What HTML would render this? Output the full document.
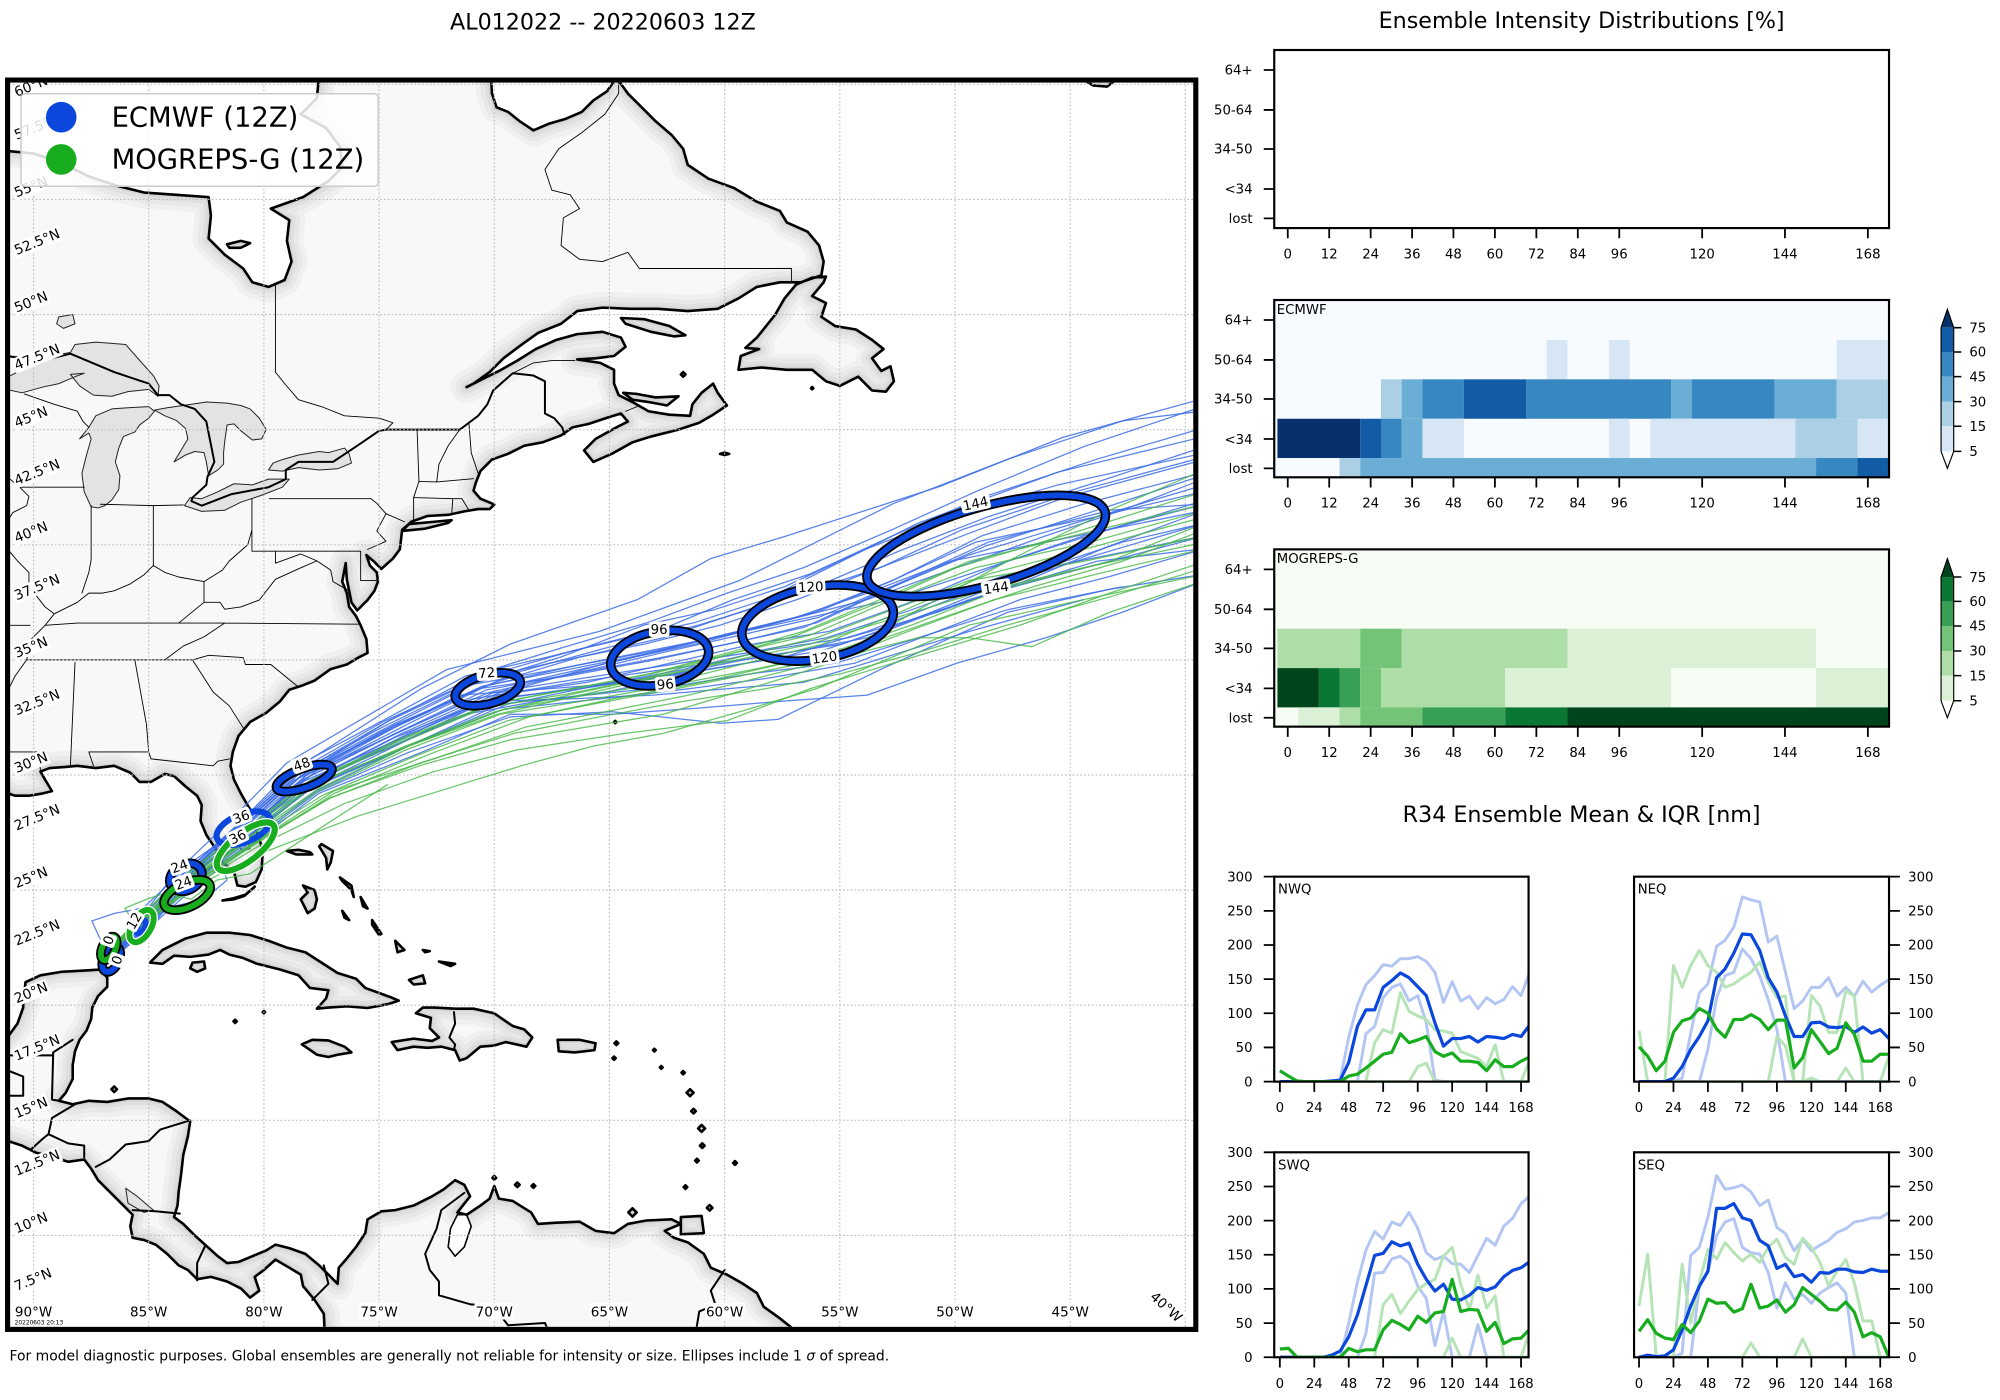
<!DOCTYPE html>
<html><head><meta charset="utf-8"><title>AL012022 -- 20220603 12Z</title>
<style>
html,body{margin:0;padding:0;background:#fff;}
svg{display:block;}
text{font-family:"DejaVu Sans","Liberation Sans",sans-serif;}
</style></head>
<body>
<svg xmlns="http://www.w3.org/2000/svg" xmlns:xlink="http://www.w3.org/1999/xlink" width="2000" height="1400" viewBox="0 0 1568 1097.6">
<defs>
<path id="land" vector-effect="non-scaling-stroke" d="
M-95,57.1 -91.1,57.1 -90,57.0 -88.8,56.6 -87.6,56.0 -86.4,55.6 -85.2,55.3 -83.8,55.2 -82.4,55.1 -82.3,54.3 -82.4,53.3 -81.7,52.6 -80.9,52.0 -80.5,51.4 -79.8,51.2 -79.1,51.5 -78.8,52.3 -79.0,53.2 -78.9,54.1 -79.7,54.6 -78.3,55.1 -77.2,55.8 -76.6,56.4 -76.7,57.3 -77.3,58.1 -78.4,58.7 -77.7,59.4 -77.5,61.5 -70.2,61.5 -70.1,59.6 -69.9,59.0 -69.4,58.8 -68.9,58.4 -68.3,58.0 -67.6,58.3 -66.9,58.5 -66.2,58.8 -65.7,59.3 -65.1,59.7 -64.7,60.3 -64.2,59.6 -63.6,59.0 -63.0,58.4 -62.3,57.8 -61.8,57.2 -61.6,56.5 -60.7,55.9 -59.6,55.5 -58.6,54.9 -57.6,54.5 -57.3,54.0 -56.4,53.6 -55.9,53.0 -55.7,52.3 -55.8,51.7 -56.7,51.4 -57.6,51.4 -58.6,51.2 -59.4,50.7 -60.3,50.25 -61.6,50.15 -62.9,50.25 -64.1,50.25 -65.3,50.3 -66.4,50.15 -67.1,49.6 -68.1,49.2 -68.8,48.7 -69.6,48.1 -70.2,47.5 -70.9,47.0 -71.2,46.85 -70.4,47.25 -69.7,47.6 -69.0,48.0 -68.2,48.5 -67.3,48.9 -66.4,49.15 -65.3,49.25 -64.5,49.0 -64.3,48.6 -64.8,48.2 -65.6,48.1 -66.4,48.05 -65.4,47.9 -64.8,47.6 -64.8,47.0 -64.6,46.5 -64.0,46.2 -63.3,45.8 -62.4,45.65 -61.5,45.6 -61.4,46.1 -61.0,46.6 -60.5,47.0 -60.3,46.6 -59.9,46.05 -60.5,45.65 -61.1,45.3 -62.0,45.0 -63.2,44.7 -64.0,44.45 -64.9,43.95 -65.7,43.6 -66.1,44.1 -65.6,44.6 -64.7,45.1 -64.2,45.35 -64.5,45.7 -65.0,45.55 -65.9,45.25 -66.6,45.1 -67.1,44.75 -67.9,44.45 -68.7,44.3 -69.4,43.95 -70.1,43.7 -70.6,43.2 -70.8,42.7 -70.9,42.35 -70.6,42.0 -70.0,41.75 -70.2,41.55 -70.7,41.55 -71.3,41.45 -72.0,41.3 -72.9,41.25 -73.6,41.0 -74.0,40.65 -74.05,40.2 -74.1,39.8 -74.4,39.4 -74.9,38.95 -75.2,39.25 -75.55,39.55 -75.4,39.1 -75.1,38.8 -75.05,38.4 -75.2,38.0 -75.5,37.6 -75.95,37.15 -76.2,37.5 -76.3,38.0 -76.4,38.5 -76.45,39.2 -76.6,38.4 -76.4,37.9 -76.3,37.3 -76.0,36.9 -75.8,36.5 -75.55,35.9 -75.5,35.3 -75.9,35.1 -76.4,34.8 -77.1,34.6 -77.8,34.1 -78.3,33.9 -78.9,33.7 -79.3,33.2 -79.9,32.7 -80.6,32.3 -81.1,31.7 -81.35,31.0 -81.45,30.4 -81.3,29.8 -81.0,29.2 -80.6,28.5 -80.6,28.1 -80.2,27.3 -80.05,26.6 -80.1,25.9 -80.35,25.35 -80.8,25.15 -81.15,25.2 -81.3,25.8 -81.8,26.2 -82.1,26.8 -82.5,27.4 -82.75,28.0 -82.7,28.7 -82.9,29.1 -83.4,29.5 -83.9,29.95 -84.3,30.05 -84.9,29.7 -85.4,29.7 -85.8,30.1 -86.5,30.4 -87.3,30.3 -88.1,30.4 -88.6,30.35 -89.3,30.3 -89.7,30.15 -89.5,29.8 -89.2,29.3 -89.6,29.2 -90.2,29.1 -90.8,29.1 -91.1,29.2 -94,29.2 -94,18.65 -91.1,18.65 -90.7,19.2 -90.45,19.9 -90.4,20.5 -90.35,21.0 -89.7,21.3 -88.8,21.45 -87.9,21.5 -87.1,21.55 -86.8,21.2 -86.8,20.8 -87.2,20.4 -87.45,19.9 -87.5,19.4 -87.7,18.9 -88.0,18.5 -88.2,18.0 -88.3,17.4 -88.3,16.8 -88.6,16.2 -88.9,15.85 -88.3,15.7 -87.6,15.85 -86.8,15.8 -85.9,15.95 -85.0,15.95 -84.4,15.8 -83.8,15.4 -83.2,14.95 -83.3,14.3 -83.5,13.5 -83.6,12.6 -83.7,11.9 -83.75,11.3 -83.9,10.8 -83.5,10.5 -83.0,10.0 -82.5,9.55 -82.0,9.1 -81.6,8.8 -81.1,8.85 -80.5,9.1 -79.9,9.35 -79.5,9.6 -78.9,9.45 -78.2,9.2 -77.6,8.7 -77.2,8.3 -76.8,7.9 -76.75,8.6 -76.4,9.0 -76.0,9.5 -75.6,10.1 -75.5,10.7 -74.9,11.05 -74.3,11.1 -73.5,11.3 -72.7,11.7 -72.2,12.0 -71.7,12.4 -71.3,12.2 -71.05,11.7 -71.6,11.0 -71.2,10.9 -70.6,11.3 -70.2,11.6 -70.0,12.15 -69.8,11.6 -69.2,11.5 -68.4,11.0 -68.1,10.5 -67.4,10.55 -66.3,10.6 -65.6,10.2 -64.8,10.1 -64.2,10.5 -63.4,10.65 -62.3,10.7 -61.9,10.5 -62.6,10.2 -62.2,9.9 -61.6,9.7 -60.9,9.2 -60.6,8.6 -59.9,8.3 -59.2,7.9 -58.6,7.5 -58.3,6.9 -57.6,6.4 -57.1,6.0 -56.5,4.5 -77.3,4.5 -77.4,6.6 -77.8,7.2 -78.3,7.8 -78.4,8.3 -78.9,8.6 -79.5,8.95 -80.0,8.5 -80.4,8.2 -80.2,7.6 -80.6,7.3 -81.0,7.7 -81.6,8.0 -82.3,8.2 -82.9,8.1 -83.3,8.5 -83.7,8.7 -84.2,9.2 -84.7,9.6 -85.2,9.8 -85.7,9.9 -85.8,10.4 -85.7,10.9 -86.2,11.4 -86.7,11.9 -87.2,12.4 -87.5,12.9 -87.8,13.3 -88.5,13.2 -89.3,13.45 -89.9,13.6 -90.5,13.9 -91.1,14.1 -95,14.1 Z
M-59.4,47.6 -58.4,47.7 -57.3,47.6 -56.2,47.6 -55.6,47.1 -55.0,46.9 -54.2,47.3 -53.6,46.7 -53.0,46.65 -52.65,47.1 -52.8,47.75 -53.2,47.55 -53.6,48.1 -53.1,48.5 -53.6,48.9 -54.3,49.35 -55.2,49.5 -55.8,49.9 -55.6,50.5 -56.2,50.8 -55.7,51.4 -55.6,51.65 -56.2,51.6 -56.9,51.3 -57.4,50.7 -57.8,50.0 -58.2,49.5 -58.6,49.0 -59.1,48.55 -58.5,48.5 -59.3,48.2 Z
M-64.5,49.85 -63.5,49.8 -62.4,49.5 -61.7,49.1 -62.2,49.05 -63.2,49.25 -64.3,49.6 Z
M-64.4,46.6 -63.8,46.55 -63.0,46.4 -62.0,46.45 -62.5,46.05 -63.3,46.2 -64.0,46.3 Z
M-74.0,40.6 -73.0,40.7 -72.0,40.95 -71.85,41.07 -72.6,41.0 -73.7,40.9 Z
M-45.5,61.5 -44.6,60.3 -44.0,59.95 -43.4,59.9 -43.0,60.2 -42.0,61.5 Z
M-81.6,53.05 -81.0,53.2 -80.6,53.1 -81.0,52.9 -81.5,52.9 Z
M-84.95,21.85 -84.4,22.4 -83.4,22.9 -82.5,23.15 -81.5,23.15 -80.6,23.05 -79.8,22.8 -79.0,22.5 -78.2,22.3 -77.5,21.85 -76.8,21.4 -76.0,21.15 -75.6,20.75 -74.5,20.35 -74.15,20.2 -74.6,20.05 -75.5,19.88 -76.4,19.95 -77.2,19.9 -77.7,19.85 -77.3,20.3 -77.2,20.65 -78.0,20.75 -78.5,21.3 -79.3,21.55 -80.3,21.8 -80.9,22.05 -81.5,22.2 -81.9,22.4 -82.4,22.2 -83.2,22.1 -83.9,22.15 -84.4,21.8 Z
M-83.1,21.85 -82.6,21.9 -82.55,21.6 -82.9,21.45 -83.2,21.6 Z
M-78.35,18.3 -77.9,18.5 -77.2,18.47 -76.5,18.2 -76.2,17.95 -76.8,17.85 -77.2,17.75 -77.7,17.85 -78.2,18.2 Z
M-74.45,18.4 -73.5,18.55 -72.7,18.45 -72.4,18.6 -72.8,19.0 -72.75,19.45 -73.4,19.65 -73.1,19.9 -72.6,19.9 -71.7,19.85 -70.9,19.85 -70.0,19.65 -69.5,19.3 -69.2,19.1 -68.7,18.95 -68.35,18.6 -68.6,18.2 -69.5,18.4 -70.0,18.25 -70.6,18.2 -71.2,17.7 -71.5,17.6 -71.7,18.05 -72.3,18.2 -72.9,18.15 -73.5,18.2 -74.2,18.05 Z
M-67.25,18.5 -66.3,18.5 -65.6,18.35 -65.65,18.05 -66.5,17.95 -67.2,18.0 Z
M-79.0,26.7 -78.5,26.75 -78.0,26.65 -77.9,26.55 -78.6,26.55 Z
M-77.5,27.0 -77.0,26.7 -77.1,26.2 -77.25,25.9 -77.3,26.4 -77.6,26.9 Z
M-78.3,25.2 -77.8,25.0 -77.7,24.6 -77.8,24.2 -78.1,24.0 -78.4,24.6 -78.1,24.9 Z
M-76.7,25.55 -76.2,25.2 -76.1,24.7 -76.2,25.0 -76.6,25.4 Z
M-75.8,24.7 -75.5,24.2 -75.7,24.3 Z
M-75.3,23.7 -74.9,23.1 -75.0,23.05 -75.3,23.5 Z
M-74.3,22.8 -73.9,22.4 -74.2,22.3 Z
M-73.7,21.1 -73.1,21.3 -73.0,20.95 -73.5,20.9 Z
M-72.4,21.9 -71.7,21.8 -71.9,21.7 Z
M-73.1,22.4 -72.8,22.35 -73.0,22.3 Z
M-76.6,24.1 -76.3,23.7 -76.5,23.8 Z
M-61.9,10.8 -61.0,10.85 -60.9,10.1 -61.9,10.05 Z
M-60.77,11.2 -60.65,11.32 -60.53,11.2 -60.65,11.08 Z
M-61.78,12.1 -61.7,12.18 -61.62,12.1 -61.7,12.02 Z
M-61.28,13.25 -61.2,13.33 -61.12,13.25 -61.2,13.17 Z
M-59.63,13.15 -59.55,13.23 -59.47,13.15 -59.55,13.07 Z
M-61.07,13.9 -60.97,14.0 -60.87,13.9 -60.97,13.8 Z
M-61.15,14.65 -61.0,14.8 -60.85,14.65 -61.0,14.5 Z
M-61.45,15.4 -61.35,15.5 -61.25,15.4 -61.35,15.3 Z
M-61.65,16.2 -61.5,16.35 -61.35,16.2 -61.5,16.05 Z
M-61.87,17.07 -61.8,17.14 -61.73,17.07 -61.8,17.0 Z
M-62.81,17.3 -62.75,17.36 -62.69,17.3 -62.75,17.24 Z
M-63.11,18.05 -63.05,18.11 -62.99,18.05 -63.05,17.99 Z
M-64.78,18.35 -64.7,18.43 -64.62,18.35 -64.7,18.27 Z
M-64.87,17.7 -64.8,17.77 -64.73,17.7 -64.8,17.63 Z
M-70.08,12.5 -70.0,12.58 -69.92,12.5 -70.0,12.42 Z
M-69.1,12.2 -69.0,12.3 -68.9,12.2 -69.0,12.1 Z
M-68.38,12.15 -68.3,12.23 -68.22,12.15 -68.3,12.07 Z
M-64.18,11.0 -64.0,11.18 -63.82,11.0 -64.0,10.82 Z
M-81.32,19.3 -81.25,19.37 -81.18,19.3 -81.25,19.23 Z
M-80.05,19.7 -80.0,19.75 -79.95,19.7 -80.0,19.65 Z
M-86.62,16.35 -86.5,16.47 -86.38,16.35 -86.5,16.23 Z
M-64.8,32.3 -64.75,32.35 -64.7,32.3 -64.75,32.25 Z
M-60.2,43.95 -60.0,44.0 -59.8,43.95 -60.0,43.9 Z
M-56.25,46.8 -56.2,46.85 -56.15,46.8 -56.2,46.75 Z
M-61.9,47.4 -61.8,47.5 -61.7,47.4 -61.8,47.3 Z
M-81.8,24.55 -81.3,24.65 -80.8,24.8 -80.4,25.15 -80.45,25.1 -80.85,24.75 -81.3,24.6 Z
"/>
<path id="lakes" vector-effect="non-scaling-stroke" d="
M-91.2,46.75 -90.5,46.6 -89.6,46.85 -88.9,47.0 -88.2,47.3 -87.8,47.45 -88.4,47.4 -88.0,46.9 -87.4,46.5 -86.6,46.45 -85.9,46.65 -85.0,46.75 -84.6,46.45 -84.55,46.9 -84.8,47.35 -85.3,47.9 -86.0,48.7 -86.6,48.75 -87.3,48.8 -88.2,48.7 -88.4,48.35 -89.0,48.25 -89.4,48.0 -89.9,47.85 -90.5,47.6 -91.2,47.25 Z
M-87.5,41.65 -87.8,42.3 -87.9,43.1 -87.7,43.9 -87.5,44.6 -87.6,44.85 -88.0,44.6 -87.6,45.1 -87.3,45.6 -86.6,45.9 -85.9,45.95 -85.0,46.0 -84.75,45.8 -85.0,45.5 -85.4,45.2 -85.6,44.9 -86.1,44.7 -86.3,44.2 -86.45,43.6 -86.25,43.0 -86.3,42.4 -86.6,41.95 -86.9,41.7 -87.2,41.6 Z
M-84.75,45.85 -84.2,45.95 -83.5,46.05 -82.5,46.2 -81.6,46.15 -81.0,46.05 -80.6,45.9 -80.2,45.5 -79.9,45.0 -80.1,44.6 -80.5,44.55 -81.0,44.95 -81.3,45.25 -81.6,45.2 -81.7,44.5 -81.75,44.0 -81.75,43.5 -82.0,43.25 -82.4,43.0 -82.5,43.6 -82.6,44.0 -83.0,44.05 -83.4,43.9 -83.9,43.6 -83.6,44.1 -83.3,44.6 -83.4,45.05 -83.8,45.4 -84.3,45.6 Z
M-83.45,41.7 -82.7,41.45 -81.7,41.5 -81.0,41.85 -80.1,42.15 -79.2,42.5 -78.9,42.85 -79.8,42.85 -80.5,42.6 -81.3,42.65 -82.0,42.3 -82.7,42.0 -83.2,42.05 Z
M-79.8,43.25 -79.2,43.2 -78.5,43.35 -77.6,43.25 -76.8,43.3 -76.2,43.55 -76.3,43.95 -76.5,44.2 -77.2,44.0 -77.6,44.05 -78.5,43.9 -79.2,43.7 -79.6,43.55 Z
M-81.0,27.2 -80.7,27.1 -80.6,26.8 -80.9,26.7 -81.1,26.9 Z
M-88.9,49.9 -88.3,50.0 -88.2,49.6 -88.7,49.4 -89.0,49.6 Z
M-86.0,12.05 -85.5,11.7 -84.8,11.1 -85.2,11.0 -85.9,11.4 Z
"/>
<clipPath id="landclip"><use xlink:href="#land"/></clipPath>
<clipPath id="mapclip2"><rect x="7.8" y="64.8" width="927.6" height="975.4"/></clipPath>
<clipPath id="cNW"><rect x="999" y="687.3" width="199.4" height="161"/></clipPath>
<clipPath id="cNE"><rect x="1281.1" y="687.3" width="199.9" height="161"/></clipPath>
<clipPath id="cSW"><rect x="999" y="903.4" width="199.4" height="161"/></clipPath>
<clipPath id="cSE"><rect x="1281.1" y="903.4" width="199.9" height="161"/></clipPath>
</defs>

<rect x="0" y="0" width="1568" height="1097.6" fill="#fff"/>

<!-- Titles -->
<text x="472.7" y="23" font-size="17.4" text-anchor="middle">AL012022 -- 20220603 12Z</text>
<text x="1240" y="22" font-size="17.4" text-anchor="middle">Ensemble Intensity Distributions [%]</text>
<text x="1240" y="644.3" font-size="17.4" text-anchor="middle">R34 Ensemble Mean &amp; IQR [nm]</text>

<!-- ================= MAP ================= -->
<g clip-path="url(#mapclip2)">
<rect x="7" y="64" width="930" height="978" fill="#fff"/>
<g transform="matrix(18.06,0,0,-18.05,1651.7,1149.1)" stroke-linejoin="round" stroke-linecap="round">
  <use xlink:href="#land" fill="#f8f8f8" stroke="none"/>
  <g clip-path="url(#landclip)" fill="none">
    <use xlink:href="#land" stroke="#f0f0f0" stroke-width="32"/>
    <use xlink:href="#land" stroke="#e8e8e8" stroke-width="22"/>
    <use xlink:href="#land" stroke="#dfdfdf" stroke-width="13"/>
    <use xlink:href="#land" stroke="#d5d5d5" stroke-width="6"/>
  </g>
  <use xlink:href="#lakes" fill="#e3e3e3" stroke="#222" stroke-width="1"/>
  <path vector-effect="non-scaling-stroke" fill="#fff" stroke="#000" stroke-width="1.6" d="M-71.6,10.9 -71.2,10.9 -71.0,10.4 -71.3,9.5 -71.7,9.1 -72.0,9.5 -71.9,10.3 Z"/>
  <!-- state / province borders -->
  <path vector-effect="non-scaling-stroke" fill="none" stroke="#000" stroke-width="0.9" d="
M-87.5,41.7 L-87.5,39.35 L-87.6,38.8 L-87.9,37.9
M-84.8,41.7 L-84.8,39.1
M-87.1,41.76 L-84.8,41.7 L-83.5,41.73
M-90.6,42.5 L-87.8,42.5
M-91.2,40.9 L-90.9,41.4 L-90.3,41.7 L-90.2,42.1 L-90.6,42.5 L-91.2,43.0
M-91.2,39.9 L-90.7,39.3 L-90.2,38.8 L-90.2,38.2 L-89.5,37.3 L-89.1,37.0 L-89.5,36.5 L-90.1,35.9 L-90.3,35.0 L-90.8,34.3 L-91.2,33.5
M-91.2,36.5 L-90.15,36.5
M-89.1,37.0 L-88.1,37.5 L-87.6,37.9 L-87.0,37.9 L-86.5,38.0 L-85.8,38.3 L-85.2,38.7 L-84.8,39.1 L-84.3,38.8 L-83.7,38.6 L-82.6,38.4
M-80.52,42.0 L-80.52,40.64 L-80.7,40.0 L-81.5,39.3 L-81.8,38.9 L-82.6,38.4
M-82.6,38.4 L-82.6,37.5 L-81.9,37.5 L-81.7,37.2 L-81.0,37.3 L-80.2,37.6 L-79.5,38.5 L-78.4,39.0 L-77.7,39.3
M-82.6,37.5 L-83.7,36.6
M-80.52,40.64 L-80.52,39.72 L-79.5,39.72 L-77.7,39.72 L-75.8,39.72
M-79.5,39.72 L-79.5,39.2 L-78.4,39.6 L-77.7,39.3 L-77.1,38.9 L-77.0,38.4 L-76.3,38.0
M-75.8,39.72 L-75.8,38.45 L-75.05,38.45
M-79.76,42.0 L-75.35,42.0 L-75.1,41.8 L-74.7,41.35 L-73.9,41.0
M-74.7,41.35 L-75.1,40.6 L-74.7,40.15 L-75.5,39.8
M-73.5,42.05 L-73.5,41.1 L-73.7,40.95
M-73.5,42.05 L-73.27,42.75 L-73.35,45.0
M-73.5,42.05 L-71.8,42.0 L-71.4,42.0 L-71.1,41.5
M-71.8,42.0 L-71.85,41.3
M-73.27,42.75 L-72.5,42.73 L-70.9,42.87
M-72.5,42.73 L-72.4,43.5 L-72.0,44.3 L-71.5,45.0
M-70.7,43.1 L-71.0,44.0 L-71.1,45.3
M-75.9,36.55 L-81.7,36.6 L-83.7,36.6 L-88.1,36.6 L-89.5,36.5
M-81.7,36.6 L-82.6,36.0 L-83.5,35.6 L-84.3,35.0
M-78.55,33.86 L-79.7,34.8 L-80.8,34.8 L-80.9,35.1 L-82.4,35.2 L-83.1,35.0 L-84.3,35.0
M-80.9,32.05 L-81.5,33.0 L-82.2,33.6 L-83.1,35.0
M-84.3,35.0 L-90.3,35.0
M-81.5,30.7 L-82.0,30.6 L-82.2,30.4 L-84.9,30.7 L-85.0,31.0 L-87.6,31.0 L-87.4,30.4
M-85.0,31.0 L-85.1,32.2 L-85.6,34.98
M-88.4,30.4 L-88.2,34.9
M-89.7,30.2 L-89.8,31.0 L-91.2,31.0
M-87.6,45.1 L-87.85,45.35 L-88.1,45.8 L-89.1,46.1 L-90.4,46.55
M-79.5,51.3 L-79.5,47.5 L-79.1,47.0 L-78.5,46.3 L-77.5,46.0 L-76.5,45.6 L-75.0,45.5 L-74.4,45.3 L-74.7,45.0
M-69.2,47.45 L-68.3,47.9 L-67.5,48.0 L-66.5,48.0
M-64.3,45.8 L-63.8,46.0
M-57.1,51.45 L-57.1,52.0 L-63.7,52.0 L-64.2,52.7 L-65.3,52.3 L-66.3,52.4 L-67.1,53.0 L-67.0,54.2 L-66.3,54.6 L-66.7,55.2 L-67.5,55.4 L-67.8,56.3 L-67.2,57.2 L-66.2,57.9 L-65.2,58.7 L-64.6,59.6 L-64.6,60.3
"/>
  <!-- country borders -->
  <path vector-effect="non-scaling-stroke" fill="none" stroke="#000" stroke-width="2" d="
M-91.2,48.2 L-90.4,48.1 L-89.6,48.0 L-88.4,48.3 L-86.5,47.5 L-85.0,47.0 L-84.6,46.5 L-84.1,46.5 L-83.6,46.1 L-83.0,45.9 L-82.5,45.35 L-82.15,43.6 L-82.45,42.95 L-82.5,42.6 L-83.1,42.05 L-83.15,41.9 L-82.7,41.7 L-81.4,42.2 L-79.8,42.5 L-79.05,42.85 L-79.05,43.25 L-78.5,43.6 L-77.0,43.6 L-76.4,44.0 L-75.8,44.4 L-75.0,44.95 L-74.7,45.0 L-71.5,45.0 L-71.1,45.3 L-70.7,45.6 L-70.3,46.1 L-70.05,46.7 L-69.2,47.45 L-68.3,47.35 L-67.8,47.1 L-67.8,45.7 L-67.4,45.5 L-67.05,45.1 L-66.95,44.8
M-91.2,16.07 L-90.45,16.07 L-90.45,16.9 L-91.2,17.2 M-91.2,17.82 L-89.15,17.82 L-89.15,17.95 L-88.3,18.5
M-89.15,17.82 L-89.2,15.9 L-88.9,15.85
M-88.2,15.7 L-89.2,15.1 L-89.35,14.4 L-89.6,14.2 L-90.1,13.75
M-89.35,14.4 L-88.5,14.0 L-87.8,13.9 L-87.8,13.4
M-87.3,12.98 L-86.7,13.3 L-86.0,13.95 L-85.0,14.1 L-84.5,14.6 L-83.2,15.0
M-85.7,11.1 L-84.7,11.05 L-83.65,10.95
M-82.55,9.55 L-82.9,8.8 L-82.9,8.05
M-77.4,8.7 L-77.2,7.9 L-77.9,7.2
M-71.3,11.85 L-72.3,11.1 L-72.5,10.3 L-73.0,9.2 L-72.8,8.5 L-72.4,8.0 L-72.4,7.4 L-71.0,7.0 L-70.1,7.0 L-69.4,6.1 L-67.8,6.2 L-67.5,5.5
M-60.0,8.5 L-60.6,7.6 L-60.4,7.0 L-61.1,6.7 L-61.3,5.5
M-57.1,6.0 L-57.3,5.5
M-71.75,19.7 L-71.7,19.2 L-71.95,18.6 L-71.7,18.3 L-71.75,18.05
"/>
  <use xlink:href="#land" fill="none" stroke="#000" stroke-width="2.6"/>
</g>

<!-- gridlines -->
<g stroke="#bdbdbd" stroke-width="0.9" stroke-dasharray="1.3 1.7" fill="none">
<path d="M26.3,64V1041 M116.6,64V1041 M206.9,64V1041 M297.2,64V1041 M387.5,64V1041 M477.8,64V1041 M568.1,64V1041 M658.4,64V1041 M748.7,64V1041 M839,64V1041 M929.3,64V1041"/>
<path d="M7,66.1H937 M7,156.35H937 M7,246.6H937 M7,336.85H937 M7,427.1H937 M7,517.35H937 M7,607.6H937 M7,697.85H937 M7,788.1H937 M7,878.35H937 M7,968.6H937"/>
</g>

<!-- blue tracks -->
<g fill="none" stroke="#3d6de6" stroke-width="1" stroke-opacity="0.85" stroke-linejoin="round">
<polyline points="87,752 108,722 140,688 185,648 236,600 330,540 400,505 500,470 557,438 614,421 738,381 833,343 945,312"/>
<polyline points="88,750 113,728 150,693 196,655 245,612 320,580 390,545 460,535 525,520 590,505 650,495 720,470 790,440 870,415 945,392"/>
<polyline points="86,754 110,724 143,686 188,645 230,602 300,565 365,530 430,515 490,500 545,488 600,470 660,440 720,410 830,370 945,342"/>
<polyline points="87,751 112,729 148,692 194,657 244,618 320,585 395,556 470,548 540,540 600,532 670,520 735,495 800,470 870,452 945,430"/>
<polyline points="88,752 109,721 138,684 180,644 225,598 290,560 350,525 410,510 470,495 525,475 580,455 640,425 700,395 790,360 880,330 945,322"/>
<polyline points="87,753 114,730 152,696 200,660 250,622 330,590 400,560 480,560 550,555 610,550 680,545 750,520 820,500 880,480 945,455"/>
<polyline points="86,750 111,725 146,689 190,650 240,608 310,570 380,538 450,522 515,510 580,495 640,480 700,455 770,420 850,395 945,370"/>
<polyline points="87,752 110,727 145,691 192,654 242,613 310,578 385,548 455,540 520,530 585,520 645,510 710,488 780,460 860,435 945,410"/>
<polyline points="88,751 112,723 147,687 189,646 234,604 300,566 372,533 440,518 505,505 565,490 625,470 690,445 755,415 845,385 945,358"/>
<polyline points="87,752 111,728 149,694 197,658 248,620 320,585 398,552 465,538 535,525 600,510 665,500 735,480 805,455 870,428 945,400"/>
<polyline points="86,753 109,726 144,690 187,651 235,609 300,573 375,540 445,530 510,518 570,505 630,492 695,462 760,435 850,408 945,380"/>
<polyline points="87,751 113,727 151,692 199,654 251,611 330,572 405,540 475,520 545,505 610,488 680,470 750,445 820,420 880,400 945,375"/>
<polyline points="88,752 110,725 142,689 184,650 228,610 290,580 360,545 430,540 495,535 555,525 615,515 680,495 745,470 880,425 945,410"/>
<polyline points="87,752 112,726 147,690 193,651 241,607 310,568 388,535 455,515 520,500 580,480 640,460 705,432 775,405 860,378 945,350"/>
<polyline points="87,750 111,724 146,688 190,649 239,606 305,565 380,530 450,510 515,495 575,470 635,450 700,420 770,390 860,360 945,335"/>
<polyline points="86,752 110,726 145,691 190,653 237,613 305,583 378,550 445,548 512,545 570,540 630,535 695,515 760,495 850,470"/>
<polyline points="88,753 113,729 150,695 198,659 249,621 320,590 400,562 480,558 565,567 610,564 690,525 790,480 870,462 945,450"/>
<polyline points="87,752 111,727 147,690 192,651 240,610 310,575 383,543 450,528 518,512 580,498 642,484 710,455 775,425 870,400 945,395"/>
<polyline points="87,751 110,725 144,687 188,648 236,605 305,565 376,528 440,508 508,488 570,465 630,445 700,415 766,385 850,350 945,318"/>
<polyline points="88,752 112,727 148,692 195,655 246,616 320,580 394,548 460,538 530,528 595,515 660,505 725,482 795,460 870,440 945,420"/>
<polyline points="87,753 111,726 146,690 191,652 238,611 310,575 381,541 450,528 516,516 580,503 641,488 705,458 773,428 860,400 945,372"/>
<polyline points="86,751 108,724 141,687 185,649 232,607 300,570 368,537 435,525 500,512 560,500 618,486 680,465 745,440 870,415 945,400"/>
<polyline points="87,752 112,726 149,689 196,649 247,605 325,565 402,528 475,508 548,490 620,468 690,445 760,418 835,390 945,360"/>
<polyline points="88,752 113,727 151,691 200,652 252,610 330,570 410,535 485,518 560,500 630,485 700,470 775,445 850,420 945,395"/>
<polyline points="87,752 110,725 145,689 189,650 236,608 305,572 378,538 445,525 510,512 570,497 632,482 700,455 765,425 860,405 945,385"/>
<polyline points="87,752 112,728 148,693 195,656 244,617 320,585 392,552 460,545 528,538 590,528 655,520 720,500 790,478 880,460"/>
<polyline points="88,752 110,723 144,688 186,650 233,608 300,572 372,536 440,515 505,490 560,478 615,460 680,430 745,405 830,380 945,355"/>
<polyline points="87,751 111,725 147,690 194,653 243,612 315,575 387,543 455,532 520,522 585,512 648,500 715,478 785,452 945,420"/>
<polyline points="87,752 78,735 72,722 90,716 112,712 125,700 150,676 170,662 188,648 230,612 300,580 370,548 450,535 520,525 600,515 680,500 760,470 860,440 945,430"/>
<polyline points="88,751 100,738 118,728 130,712 160,705 178,690 172,672 190,655 232,620 295,590 365,560 420,550 478,542 540,528"/>
</g>
<!-- green tracks -->
<g fill="none" stroke="#46b846" stroke-width="1" stroke-opacity="0.8" stroke-linejoin="round">
<polyline points="86,746 110,722 148,692 200,660 260,625 330,600 400,580 460,570 520,560 570,545 620,530 680,510 720,500 760,500 809,507 870,480 945,455"/>
<polyline points="85,744 112,720 150,688 197,655 250,618 320,585 390,560 455,545 520,530 580,515 640,500 700,478 760,455 850,440 945,420"/>
<polyline points="86,745 111,724 152,694 205,662 270,630 340,605 405,588 490,575 570,565 635,540 700,520 750,505 800,490 870,465 945,440"/>
<polyline points="85,746 109,719 145,686 192,650 243,612 315,580 385,552 450,540 510,528 570,512 630,495 695,468 760,440 850,418 945,395"/>
<polyline points="86,744 113,723 155,690 208,655 262,620 340,595 412,570 475,558 540,545 600,530 660,515 720,492 780,470 860,450 945,430"/>
<polyline points="85,745 110,721 147,689 195,653 247,614 320,585 395,556 460,545 525,535 585,520 645,505 710,478 775,450 860,428 945,405"/>
<polyline points="86,746 112,725 153,695 210,667 280,640 345,620 410,600 465,585 520,575 580,558 640,540 700,515 760,490 850,470 945,450"/>
<polyline points="85,744 111,722 149,690 199,657 254,623 325,593 398,565 465,552 530,540 590,528 655,515 720,478 790,440 870,400 945,368"/>
<polyline points="86,745 110,723 148,691 196,656 245,616 315,586 388,558 450,544 515,530 575,518 635,505 700,485 765,465 850,445 945,425"/>
<polyline points="85,746 112,724 151,693 202,660 258,626 330,598 403,575 470,562 535,550 600,540 660,528 725,510 790,490 870,468 945,445"/>
<polyline points="86,744 109,720 144,687 190,652 240,615 310,584 380,555 445,544 505,532 565,515 625,498 690,472 750,445 850,415 945,385"/>
<polyline points="85,745 113,724 154,692 206,658 262,622 340,590 415,562 480,548 550,535 615,520 680,505 745,482 810,460 880,440 945,415"/>
<polyline points="86,745 111,723 150,690 198,656 250,620 318,588 392,560 455,550 522,538 590,525 650,512 715,490 785,462 870,440 945,410"/>
<polyline points="86,746 110,722 146,688 194,652 244,614 312,580 385,552 448,540 512,528 575,512 635,498 700,470 765,445 855,425 945,400"/>
<polyline points="86,746 96,735 104,722 98,712 115,705 130,700 150,705 170,690 196,685 250,650 304,615"/>
</g>

<!-- ellipses -->
<g fill="none">
  <ellipse cx="87.2" cy="752" rx="10.6" ry="6.1" transform="rotate(-65 87.2 752)" stroke="#000" stroke-width="7.5"/>
  <ellipse cx="87.2" cy="752" rx="10.6" ry="6.1" transform="rotate(-65 87.2 752)" stroke="#0b47dd" stroke-width="4.6"/>
  <ellipse cx="85.3" cy="743.5" rx="9.9" ry="5.1" transform="rotate(-65 85.3 743.5)" stroke="#000" stroke-width="7.5"/>
  <ellipse cx="85.3" cy="743.5" rx="9.9" ry="5.1" transform="rotate(-65 85.3 743.5)" stroke="#17ad1f" stroke-width="4.6"/>
  <ellipse cx="110.7" cy="726.5" rx="6" ry="2.5" transform="rotate(-60 110.7 726.5)" stroke="#0b47dd" stroke-width="4"/>
  <ellipse cx="111" cy="726" rx="14" ry="7.5" transform="rotate(-60 111 726)" stroke="#fff" stroke-width="6.5"/>
  <ellipse cx="111" cy="726" rx="14" ry="7.5" transform="rotate(-60 111 726)" stroke="#17ad1f" stroke-width="4.6"/>
  <ellipse cx="145.7" cy="687.8" rx="13.3" ry="10.1" transform="rotate(-30 145.7 687.8)" stroke="#000" stroke-width="7.5"/>
  <ellipse cx="145.7" cy="687.8" rx="13.3" ry="10.1" transform="rotate(-30 145.7 687.8)" stroke="#0b47dd" stroke-width="4.6"/>
  <ellipse cx="146.7" cy="701.7" rx="19.5" ry="9.5" transform="rotate(-25 146.7 701.7)" stroke="#000" stroke-width="7.5"/>
  <ellipse cx="146.7" cy="701.7" rx="19.5" ry="9.5" transform="rotate(-25 146.7 701.7)" stroke="#17ad1f" stroke-width="4.6"/>
  <ellipse cx="190.8" cy="649.3" rx="22.2" ry="11" transform="rotate(-22 190.8 649.3)" stroke="#0b47dd" stroke-width="4.8"/>
  <ellipse cx="192.7" cy="663.8" rx="27.5" ry="11" transform="rotate(-38 192.7 663.8)" stroke="#fff" stroke-width="6.8"/>
  <ellipse cx="192.7" cy="663.8" rx="27.5" ry="11" transform="rotate(-38 192.7 663.8)" stroke="#17ad1f" stroke-width="4.8"/>
  <ellipse cx="238.5" cy="610" rx="23" ry="7.6" transform="rotate(-20 238.5 610)" stroke="#000" stroke-width="7.5"/>
  <ellipse cx="238.5" cy="610" rx="23" ry="7.6" transform="rotate(-20 238.5 610)" stroke="#0b47dd" stroke-width="4.6"/>
  <ellipse cx="382.4" cy="540.4" rx="26.2" ry="11.4" transform="rotate(-15 382.4 540.4)" stroke="#000" stroke-width="7.5"/>
  <ellipse cx="382.4" cy="540.4" rx="26.2" ry="11.4" transform="rotate(-15 382.4 540.4)" stroke="#0b47dd" stroke-width="4.6"/>
  <ellipse cx="517.2" cy="516" rx="38.8" ry="21" transform="rotate(-10 517.2 516)" stroke="#000" stroke-width="7.5"/>
  <ellipse cx="517.2" cy="516" rx="38.8" ry="21" transform="rotate(-10 517.2 516)" stroke="#0b47dd" stroke-width="4.6"/>
  <ellipse cx="641" cy="488.5" rx="60.1" ry="28.3" transform="rotate(-10 641 488.5)" stroke="#000" stroke-width="7.5"/>
  <ellipse cx="641" cy="488.5" rx="60.1" ry="28.3" transform="rotate(-10 641 488.5)" stroke="#0b47dd" stroke-width="4.6"/>
  <ellipse cx="773.2" cy="428" rx="96.9" ry="30.5" transform="rotate(-16 773.2 428)" stroke="#000" stroke-width="7.5"/>
  <ellipse cx="773.2" cy="428" rx="96.9" ry="30.5" transform="rotate(-16 773.2 428)" stroke="#0b47dd" stroke-width="4.6"/>
</g>

<!-- ellipse labels -->
<g font-size="10.5" text-anchor="middle">
  <g transform="translate(84.9,737) rotate(-70)"><rect x="-5" y="-6" width="10" height="12" rx="2" fill="#fff"/><text y="3.8">0</text></g>
  <g transform="translate(91.5,752.6) rotate(-70)"><rect x="-5" y="-6" width="10" height="12" rx="2" fill="#fff"/><text y="3.8">0</text></g>
  <g transform="translate(105,721.8) rotate(-60)"><rect x="-8" y="-6" width="16" height="12" rx="2" fill="#fff"/><text y="3.8">12</text></g>
  <g transform="translate(140.6,679) rotate(-20)"><rect x="-8" y="-6" width="16" height="12" rx="2" fill="#fff"/><text y="3.8">24</text></g>
  <g transform="translate(143.7,692) rotate(-20)"><rect x="-8" y="-6" width="16" height="12" rx="2" fill="#fff"/><text y="3.8">24</text></g>
  <g transform="translate(189,640.3) rotate(-20)"><rect x="-8" y="-6" width="16" height="12" rx="2" fill="#fff"/><text y="3.8">36</text></g>
  <g transform="translate(186.3,656) rotate(-25)"><rect x="-8" y="-6" width="16" height="12" rx="2" fill="#fff"/><text y="3.8">36</text></g>
  <g transform="translate(236.5,599) rotate(-20)"><rect x="-8" y="-6" width="16" height="12" rx="2" fill="#fff"/><text y="3.8">48</text></g>
  <g transform="translate(381.6,527.4) rotate(-5)"><rect x="-8" y="-6" width="16" height="12" rx="2" fill="#fff"/><text y="3.8">72</text></g>
  <g transform="translate(516.8,493.4)"><rect x="-8" y="-6" width="16" height="12" rx="2" fill="#fff"/><text y="3.8">96</text></g>
  <g transform="translate(521.6,536.3) rotate(-5)"><rect x="-8" y="-6" width="16" height="12" rx="2" fill="#fff"/><text y="3.8">96</text></g>
  <g transform="translate(635.6,460) rotate(-3)"><rect x="-11.5" y="-6" width="23" height="12" rx="2" fill="#fff"/><text y="3.8">120</text></g>
  <g transform="translate(646.4,515.3) rotate(-8)"><rect x="-11.5" y="-6" width="23" height="12" rx="2" fill="#fff"/><text y="3.8">120</text></g>
  <g transform="translate(764.8,394.6) rotate(-12)"><rect x="-11.5" y="-6" width="23" height="12" rx="2" fill="#fff"/><text y="3.8">144</text></g>
  <g transform="translate(780.9,460.7) rotate(-8)"><rect x="-11.5" y="-6" width="23" height="12" rx="2" fill="#fff"/><text y="3.8">144</text></g>
</g>

<!-- lat labels -->
<g font-size="10.8">
  <g transform="translate(13,76) rotate(-22)"><rect x="-1" y="-9.5" width="29" height="12" fill="#fff"/><text>60°N</text></g>
  <g transform="translate(13,109.7) rotate(-22)"><rect x="-1" y="-9.5" width="39.5" height="12" fill="#fff"/><text>57.5°N</text></g>
  <g transform="translate(13,154.85) rotate(-22)"><rect x="-1" y="-9.5" width="29" height="12" fill="#fff"/><text>55°N</text></g>
  <g transform="translate(13,200) rotate(-22)"><rect x="-1" y="-9.5" width="39.5" height="12" fill="#fff"/><text>52.5°N</text></g>
  <g transform="translate(13,245.1) rotate(-22)"><rect x="-1" y="-9.5" width="29" height="12" fill="#fff"/><text>50°N</text></g>
  <g transform="translate(13,290.2) rotate(-22)"><rect x="-1" y="-9.5" width="39.5" height="12" fill="#fff"/><text>47.5°N</text></g>
  <g transform="translate(13,335.35) rotate(-22)"><rect x="-1" y="-9.5" width="29" height="12" fill="#fff"/><text>45°N</text></g>
  <g transform="translate(13,380.5) rotate(-22)"><rect x="-1" y="-9.5" width="39.5" height="12" fill="#fff"/><text>42.5°N</text></g>
  <g transform="translate(13,425.6) rotate(-22)"><rect x="-1" y="-9.5" width="29" height="12" fill="#fff"/><text>40°N</text></g>
  <g transform="translate(13,470.7) rotate(-22)"><rect x="-1" y="-9.5" width="39.5" height="12" fill="#fff"/><text>37.5°N</text></g>
  <g transform="translate(13,515.85) rotate(-22)"><rect x="-1" y="-9.5" width="29" height="12" fill="#fff"/><text>35°N</text></g>
  <g transform="translate(13,561) rotate(-22)"><rect x="-1" y="-9.5" width="39.5" height="12" fill="#fff"/><text>32.5°N</text></g>
  <g transform="translate(13,606.1) rotate(-22)"><rect x="-1" y="-9.5" width="29" height="12" fill="#fff"/><text>30°N</text></g>
  <g transform="translate(13,651.2) rotate(-22)"><rect x="-1" y="-9.5" width="39.5" height="12" fill="#fff"/><text>27.5°N</text></g>
  <g transform="translate(13,696.35) rotate(-22)"><rect x="-1" y="-9.5" width="29" height="12" fill="#fff"/><text>25°N</text></g>
  <g transform="translate(13,741.5) rotate(-22)"><rect x="-1" y="-9.5" width="39.5" height="12" fill="#fff"/><text>22.5°N</text></g>
  <g transform="translate(13,786.6) rotate(-22)"><rect x="-1" y="-9.5" width="29" height="12" fill="#fff"/><text>20°N</text></g>
  <g transform="translate(13,831.7) rotate(-22)"><rect x="-1" y="-9.5" width="39.5" height="12" fill="#fff"/><text>17.5°N</text></g>
  <g transform="translate(13,876.85) rotate(-22)"><rect x="-1" y="-9.5" width="29" height="12" fill="#fff"/><text>15°N</text></g>
  <g transform="translate(13,922) rotate(-22)"><rect x="-1" y="-9.5" width="39.5" height="12" fill="#fff"/><text>12.5°N</text></g>
  <g transform="translate(13,967.1) rotate(-22)"><rect x="-1" y="-9.5" width="29" height="12" fill="#fff"/><text>10°N</text></g>
  <g transform="translate(13,1012.2) rotate(-22)"><rect x="-1" y="-9.5" width="32.5" height="12" fill="#fff"/><text>7.5°N</text></g>
</g>
<!-- lon labels -->
<g font-size="10.6" text-anchor="middle">
  <rect x="10.8" y="1021.5" width="31" height="13" fill="#fff"/><text x="26.3" y="1032.3">90°W</text>
  <rect x="101.1" y="1021.5" width="31" height="13" fill="#fff"/><text x="116.6" y="1032.3">85°W</text>
  <rect x="191.4" y="1021.5" width="31" height="13" fill="#fff"/><text x="206.9" y="1032.3">80°W</text>
  <rect x="281.7" y="1021.5" width="31" height="13" fill="#fff"/><text x="297.2" y="1032.3">75°W</text>
  <rect x="372" y="1021.5" width="31" height="13" fill="#fff"/><text x="387.5" y="1032.3">70°W</text>
  <rect x="462.3" y="1021.5" width="31" height="13" fill="#fff"/><text x="477.8" y="1032.3">65°W</text>
  <rect x="552.6" y="1021.5" width="31" height="13" fill="#fff"/><text x="568.1" y="1032.3">60°W</text>
  <rect x="642.9" y="1021.5" width="31" height="13" fill="#fff"/><text x="658.4" y="1032.3">55°W</text>
  <rect x="733.2" y="1021.5" width="31" height="13" fill="#fff"/><text x="748.7" y="1032.3">50°W</text>
  <rect x="823.5" y="1021.5" width="31" height="13" fill="#fff"/><text x="839" y="1032.3">45°W</text>
  <g transform="translate(914.5,1024.5) rotate(42)"><rect x="-15.5" y="-6.5" width="31" height="13" fill="#fff"/><text y="3.8">40°W</text></g>
</g>
<text x="11.5" y="1038.5" font-size="4.6">20220603 20:13</text>
</g>

<!-- legend -->
<rect x="16.5" y="73.5" width="280" height="72.5" rx="3" fill="#fff" fill-opacity="0.85" stroke="#cccccc" stroke-width="1.2"/>
<circle cx="48" cy="91.9" r="12" fill="#0b47dd"/>
<circle cx="48" cy="125" r="12" fill="#17ad1f"/>
<text x="87.5" y="99" font-size="21.5">ECMWF (12Z)</text>
<text x="87.5" y="132.2" font-size="21.5">MOGREPS-G (12Z)</text>

<!-- map frame -->
<rect x="5.95" y="62.75" width="931.55" height="979.5" fill="none" stroke="#000" stroke-width="4"/>

<!-- footer -->
<text x="7.5" y="1066.5" font-size="10.9">For model diagnostic purposes. Global ensembles are generally not reliable for intensity or size. Ellipses include 1 <tspan font-style="italic">σ</tspan> of spread.</text>

<!-- ================= INTENSITY PANELS ================= -->
<rect x="999" y="39.2" width="482" height="139.6" fill="#fff" stroke="#000" stroke-width="1.7"/>
<rect x="999" y="235.2" width="482" height="139" fill="#f7fbff"/>
<g stroke="none">
<rect x="1212.6" y="266.6" width="16.3" height="30.8" fill="#d6e6f4"/>
<rect x="1261.4" y="266.6" width="16.2" height="30.8" fill="#d6e6f4"/>
<rect x="1440" y="266.6" width="41" height="30.8" fill="#d6e6f4"/>
<rect x="1082.7" y="297.4" width="16.2" height="30.9" fill="#abd0e6"/>
<rect x="1098.9" y="297.4" width="16.3" height="30.9" fill="#6aaed6"/>
<rect x="1115.2" y="297.4" width="32.5" height="30.9" fill="#3787c0"/>
<rect x="1147.7" y="297.4" width="48.7" height="30.9" fill="#115ca5"/>
<rect x="1196.4" y="297.4" width="113.7" height="30.9" fill="#3787c0"/>
<rect x="1310.1" y="297.4" width="16.2" height="30.9" fill="#6aaed6"/>
<rect x="1326.3" y="297.4" width="65" height="30.9" fill="#3787c0"/>
<rect x="1391.3" y="297.4" width="48.7" height="30.9" fill="#6aaed6"/>
<rect x="1440" y="297.4" width="41" height="30.9" fill="#abd0e6"/>
<rect x="1001.5" y="328.3" width="64.9" height="30.8" fill="#08306b"/>
<rect x="1066.4" y="328.3" width="16.3" height="30.8" fill="#115ca5"/>
<rect x="1082.7" y="328.3" width="16.2" height="30.8" fill="#3787c0"/>
<rect x="1098.9" y="328.3" width="16.3" height="30.8" fill="#6aaed6"/>
<rect x="1115.2" y="328.3" width="32.5" height="30.8" fill="#d6e6f4"/>
<rect x="1261.4" y="328.3" width="16.2" height="30.8" fill="#d6e6f4"/>
<rect x="1293.8" y="328.3" width="113.7" height="30.8" fill="#d6e6f4"/>
<rect x="1407.5" y="328.3" width="48.8" height="30.8" fill="#abd0e6"/>
<rect x="1456.3" y="328.3" width="24.7" height="30.8" fill="#d6e6f4"/>
<rect x="1050.2" y="359.1" width="16.2" height="15.1" fill="#abd0e6"/>
<rect x="1066.4" y="359.1" width="357.4" height="15.1" fill="#6aaed6"/>
<rect x="1423.8" y="359.1" width="32.5" height="15.1" fill="#3787c0"/>
<rect x="1456.3" y="359.1" width="24.7" height="15.1" fill="#115ca5"/>
</g>
<rect x="999" y="235.2" width="482" height="139" fill="none" stroke="#000" stroke-width="1.7"/>
<text x="1001" y="246" font-size="10.4">ECMWF</text>
<rect x="999" y="430.7" width="482" height="139" fill="#f7fcf5"/>
<g stroke="none">
<rect x="1001.5" y="492.9" width="64.9" height="30.9" fill="#aedea7"/>
<rect x="1066.4" y="492.9" width="32.5" height="30.9" fill="#73c476"/>
<rect x="1098.9" y="492.9" width="130" height="30.9" fill="#aedea7"/>
<rect x="1228.9" y="492.9" width="194.9" height="30.9" fill="#dbf1d5"/>
<rect x="1001.5" y="523.8" width="32.5" height="30.8" fill="#00441b"/>
<rect x="1034" y="523.8" width="16.2" height="30.8" fill="#0b7734"/>
<rect x="1050.2" y="523.8" width="16.2" height="30.8" fill="#37a055"/>
<rect x="1066.4" y="523.8" width="16.3" height="30.8" fill="#73c476"/>
<rect x="1082.7" y="523.8" width="97.4" height="30.8" fill="#aedea7"/>
<rect x="1180.1" y="523.8" width="130" height="30.8" fill="#dbf1d5"/>
<rect x="1423.8" y="523.8" width="57.2" height="30.8" fill="#dbf1d5"/>
<rect x="1017.7" y="554.6" width="32.5" height="15.1" fill="#dbf1d5"/>
<rect x="1050.2" y="554.6" width="16.2" height="15.1" fill="#aedea7"/>
<rect x="1066.4" y="554.6" width="48.8" height="15.1" fill="#73c476"/>
<rect x="1115.2" y="554.6" width="64.9" height="15.1" fill="#37a055"/>
<rect x="1180.1" y="554.6" width="48.8" height="15.1" fill="#0b7734"/>
<rect x="1228.9" y="554.6" width="252.1" height="15.1" fill="#00441b"/>
</g>
<rect x="999" y="430.7" width="482" height="139" fill="none" stroke="#000" stroke-width="1.7"/>
<text x="1001" y="441.5" font-size="10.4">MOGREPS-G</text>

<g stroke="#000" stroke-width="1.4">
<path d="M990.8,54.9H999 M990.8,86.2H999 M990.8,116.8H999 M990.8,148.2H999 M990.8,171.2H999"/>
<path d="M990.8,250.9H999 M990.8,282.2H999 M990.8,312.8H999 M990.8,344.2H999 M990.8,367.2H999"/>
<path d="M990.8,446.4H999 M990.8,477.7H999 M990.8,508.3H999 M990.8,539.7H999 M990.8,562.7H999"/>
</g>
<g font-size="10.4" text-anchor="end">
<text x="982" y="58.6">64+</text><text x="982" y="89.9">50-64</text><text x="982" y="120.5">34-50</text><text x="982" y="151.9">&lt;34</text><text x="982" y="174.9">lost</text>
<text x="982" y="254.6">64+</text><text x="982" y="285.9">50-64</text><text x="982" y="316.5">34-50</text><text x="982" y="347.9">&lt;34</text><text x="982" y="370.9">lost</text>
<text x="982" y="450.1">64+</text><text x="982" y="481.4">50-64</text><text x="982" y="512">34-50</text><text x="982" y="543.4">&lt;34</text><text x="982" y="566.4">lost</text>
</g>
<g stroke="#000" stroke-width="1.4">
<path d="M1009.6,178.8v8 M1042.1,178.8v8 M1074.6,178.8v8 M1107.1,178.8v8 M1139.5,178.8v8 M1172,178.8v8 M1204.5,178.8v8 M1237,178.8v8 M1269.5,178.8v8 M1334.5,178.8v8 M1399.4,178.8v8 M1464.4,178.8v8"/>
<path d="M1009.6,374.2v8 M1042.1,374.2v8 M1074.6,374.2v8 M1107.1,374.2v8 M1139.5,374.2v8 M1172,374.2v8 M1204.5,374.2v8 M1237,374.2v8 M1269.5,374.2v8 M1334.5,374.2v8 M1399.4,374.2v8 M1464.4,374.2v8"/>
<path d="M1009.6,569.7v8 M1042.1,569.7v8 M1074.6,569.7v8 M1107.1,569.7v8 M1139.5,569.7v8 M1172,569.7v8 M1204.5,569.7v8 M1237,569.7v8 M1269.5,569.7v8 M1334.5,569.7v8 M1399.4,569.7v8 M1464.4,569.7v8"/>
</g>
<g font-size="10.4" text-anchor="middle">
<text x="1009.6" y="202.5">0</text><text x="1042.1" y="202.5">12</text><text x="1074.6" y="202.5">24</text><text x="1107.1" y="202.5">36</text><text x="1139.5" y="202.5">48</text><text x="1172" y="202.5">60</text><text x="1204.5" y="202.5">72</text><text x="1237" y="202.5">84</text><text x="1269.5" y="202.5">96</text><text x="1334.5" y="202.5">120</text><text x="1399.4" y="202.5">144</text><text x="1464.4" y="202.5">168</text>
<text x="1009.6" y="398">0</text><text x="1042.1" y="398">12</text><text x="1074.6" y="398">24</text><text x="1107.1" y="398">36</text><text x="1139.5" y="398">48</text><text x="1172" y="398">60</text><text x="1204.5" y="398">72</text><text x="1237" y="398">84</text><text x="1269.5" y="398">96</text><text x="1334.5" y="398">120</text><text x="1399.4" y="398">144</text><text x="1464.4" y="398">168</text>
<text x="1009.6" y="593.5">0</text><text x="1042.1" y="593.5">12</text><text x="1074.6" y="593.5">24</text><text x="1107.1" y="593.5">36</text><text x="1139.5" y="593.5">48</text><text x="1172" y="593.5">60</text><text x="1204.5" y="593.5">72</text><text x="1237" y="593.5">84</text><text x="1269.5" y="593.5">96</text><text x="1334.5" y="593.5">120</text><text x="1399.4" y="593.5">144</text><text x="1464.4" y="593.5">168</text>
</g>

<!-- colorbars -->
<g>
<polygon points="1521.8,256.9 1526.75,242.5 1531.7,256.9" fill="#08306b"/>
<rect x="1521.8" y="256.9" width="9.9" height="19.1" fill="#115ca5"/>
<rect x="1521.8" y="276" width="9.9" height="19.3" fill="#3787c0"/>
<rect x="1521.8" y="295.3" width="9.9" height="19.6" fill="#6aaed6"/>
<rect x="1521.8" y="314.9" width="9.9" height="19.3" fill="#abd0e6"/>
<rect x="1521.8" y="334.2" width="9.9" height="19.7" fill="#d6e6f4"/>
<polygon points="1521.8,353.9 1526.75,367.2 1531.7,353.9" fill="#fff"/>
<path d="M1521.8,256.9 L1526.75,242.5 L1531.7,256.9 L1531.7,353.9 L1526.75,367.2 L1521.8,353.9 Z" fill="none" stroke="#000" stroke-width="0.9"/>
<path d="M1531.7,256.9h6 M1531.7,276h6 M1531.7,295.3h6 M1531.7,314.9h6 M1531.7,334.2h6 M1531.7,353.9h6" stroke="#000" stroke-width="1.2"/>
<g font-size="10.4"><text x="1544" y="260.6">75</text><text x="1544" y="279.7">60</text><text x="1544" y="299">45</text><text x="1544" y="318.6">30</text><text x="1544" y="337.9">15</text><text x="1544" y="357.6">5</text></g>
</g>
<g transform="translate(0,195.5)">
<polygon points="1521.8,256.9 1526.75,242.5 1531.7,256.9" fill="#00441b"/>
<rect x="1521.8" y="256.9" width="9.9" height="19.1" fill="#0b7734"/>
<rect x="1521.8" y="276" width="9.9" height="19.3" fill="#37a055"/>
<rect x="1521.8" y="295.3" width="9.9" height="19.6" fill="#73c476"/>
<rect x="1521.8" y="314.9" width="9.9" height="19.3" fill="#aedea7"/>
<rect x="1521.8" y="334.2" width="9.9" height="19.7" fill="#dbf1d5"/>
<polygon points="1521.8,353.9 1526.75,367.2 1531.7,353.9" fill="#fff"/>
<path d="M1521.8,256.9 L1526.75,242.5 L1531.7,256.9 L1531.7,353.9 L1526.75,367.2 L1521.8,353.9 Z" fill="none" stroke="#000" stroke-width="0.9"/>
<path d="M1531.7,256.9h6 M1531.7,276h6 M1531.7,295.3h6 M1531.7,314.9h6 M1531.7,334.2h6 M1531.7,353.9h6" stroke="#000" stroke-width="1.2"/>
<g font-size="10.4"><text x="1544" y="260.6">75</text><text x="1544" y="279.7">60</text><text x="1544" y="299">45</text><text x="1544" y="318.6">30</text><text x="1544" y="337.9">15</text><text x="1544" y="357.6">5</text></g>
</g>

<!-- ================= R34 PANELS ================= -->
<g clip-path="url(#cNW)"><g transform="translate(0,848) scale(1,1.0083) translate(0,-848)" fill="none" stroke-width="2.3" stroke-linejoin="round">
<polyline stroke="#b3c6f3" points="1003.4,848 1043.9,848 1050.7,846.4 1057.4,813.5 1064.2,788.5 1070.9,772.6 1077.7,765.6 1084.4,757.1 1091.2,758.2 1097.9,752.4 1104.7,752.4 1111.5,750.8 1118.2,754.5 1125,763 1131.7,786.4 1138.5,770.4 1145.2,785.3 1152,781.6 1158.7,791.2 1165.5,782.6 1172.2,787.4 1179,784.2 1185.8,774.1 1192.5,781.1 1199.3,763"/>
<polyline stroke="#b3c6f3" points="1003.4,848 1064.2,848 1070.9,810.8 1077.7,805 1084.4,782.7 1091.2,774.7 1097.9,772 1104.7,785.3 1111.5,781.1 1118.2,802.3 1125,846.9 1131.7,848 1199.3,848"/>
<polyline stroke="#b6e4b6" points="1003.4,848 1070.9,848 1077.7,817.7 1084.4,807.6 1091.2,810.3 1097.9,778.9 1104.7,793.3 1111.5,797 1118.2,799.7 1125,807.6 1131.7,808.7 1138.5,810.3 1145.2,824.6 1152,827.3 1158.7,829.9 1165.5,836.3 1172.2,819.3 1179,848 1192.5,848 1199.3,831"/>
<polyline stroke="#b6e4b6" points="1003.4,848 1104.7,848 1111.5,836.3 1118.2,833.7 1125,848 1199.3,848"/>
<polyline stroke="#0b47dd" stroke-width="2.5" points="1003.4,848 1037.2,848 1043.9,847.5 1050.7,846.9 1057.4,833.1 1064.2,805 1070.9,792.2 1077.7,792.2 1084.4,774.7 1091.2,769.4 1097.9,763.5 1104.7,767.2 1111.5,774.1 1118.2,781.1 1125,802.3 1131.7,820.4 1138.5,814.5 1145.2,814.5 1152,812.9 1158.7,817.2 1165.5,812.9 1172.2,813.5 1179,814.5 1185.8,811.3 1192.5,812.9 1199.3,803.9"/>
<polyline stroke="#17ad1f" stroke-width="2.5" points="1003.4,839.5 1010.2,843.7 1016.9,847.5 1023.7,848 1050.7,848 1057.4,843.7 1064.2,842.2 1070.9,837.4 1077.7,832.1 1084.4,826.7 1091.2,825.2 1097.9,810.8 1104.7,817.7 1111.5,815.6 1118.2,812.9 1125,824.6 1131.7,828.3 1138.5,825.7 1145.2,832.1 1152,832.1 1158.7,833.1 1165.5,839.5 1172.2,831 1179,836.3 1185.8,836.3 1192.5,832.1 1199.3,828.9"/>
</g></g>
<g clip-path="url(#cNE)"><g transform="translate(0,848) scale(1,1.0083) translate(0,-848)" fill="none" stroke-width="2.3" stroke-linejoin="round">
<polyline stroke="#b3c6f3" points="1285,848 1312,848 1318.8,845.3 1325.5,810.3 1332.3,778.9 1339,772 1345.8,742.8 1352.5,738 1359.3,727.9 1366,704.5 1372.8,706.7 1379.6,708.3 1386.3,739.6 1393.1,734.8 1399.8,763 1406.6,791.2 1413.3,785.3 1420.1,774.7 1426.8,774.7 1433.6,767.2 1440.3,781.6 1447.1,774.7 1453.8,781.6 1460.6,769.9 1467.4,778.4 1474.1,773.1 1480.9,768.8"/>
<polyline stroke="#b3c6f3" points="1285,848 1332.3,848 1339,823 1345.8,782.7 1352.5,765.6 1359.3,763 1366,744.9 1372.8,752.4 1379.6,765.6 1386.3,784.2 1393.1,807.6 1399.8,848 1480.9,848"/>
<polyline stroke="#b6e4b6" points="1285,808.2 1291.8,848 1305.3,848 1312,757.7 1318.8,774.7 1325.5,757.7 1332.3,746 1339,757.7 1345.8,763 1352.5,774.7 1359.3,772 1366,767.2 1372.8,763 1379.6,755 1386.3,771 1393.1,782.7 1399.8,781.6 1406.6,848 1413.3,848 1420.1,781.1 1426.8,789 1433.6,809.7 1440.3,809.7 1447.1,777.3 1453.8,781.6 1460.6,848 1474.1,848 1480.9,828.3"/>
<polyline stroke="#b6e4b6" points="1285,848 1386.3,848 1393.1,812.9 1399.8,820.4 1406.6,848 1413.3,848 1420.1,845.3 1426.8,848 1440.3,848 1447.1,837.4 1453.8,848 1480.9,848"/>
<polyline stroke="#0b47dd" stroke-width="2.5" points="1285,848 1305.3,848 1312,845.3 1318.8,836.3 1325.5,823 1332.3,812.9 1339,800.7 1345.8,767.2 1352.5,760.3 1359.3,748.1 1366,733.2 1372.8,733.8 1379.6,746 1386.3,767.2 1393.1,778.4 1399.8,797 1406.6,812.9 1413.3,812.9 1420.1,802.3 1426.8,801.8 1433.6,805.5 1440.3,806 1447.1,805 1453.8,809.7 1460.6,805.5 1467.4,810.3 1474.1,807.6 1480.9,814.5"/>
<polyline stroke="#17ad1f" stroke-width="2.5" points="1285,820.9 1291.8,828.3 1298.5,839.5 1305.3,832.1 1312,809.7 1318.8,800.7 1325.5,798.6 1332.3,791.2 1339,794.9 1345.8,807.1 1352.5,813.5 1359.3,799.7 1366,799.7 1372.8,795.9 1379.6,799.7 1386.3,807.6 1393.1,800.2 1399.8,800.2 1406.6,837.4 1413.3,829.4 1420.1,807.6 1426.8,816.7 1433.6,826.2 1440.3,822 1447.1,802.3 1453.8,811.3 1460.6,832.1 1467.4,832.1 1474.1,826.7 1480.9,826.7"/>
</g></g>
<g clip-path="url(#cSW)"><g transform="translate(0,1064.1) scale(1,1.0083) translate(0,-1064.1)" fill="none" stroke-width="2.3" stroke-linejoin="round">
<polyline stroke="#b3c6f3" points="1003.4,1064.1 1050.7,1064.1 1057.4,1037.5 1064.2,1005.7 1070.9,980.7 1077.7,966.3 1084.4,972.2 1091.2,958.9 1097.9,961.6 1104.7,951.5 1111.5,963.7 1118.2,982.8 1125,988.1 1131.7,985.5 1138.5,991.3 1145.2,991.8 1152,998.2 1158.7,984.9 1165.5,971.6 1172.2,977 1179,962.1 1185.8,956.2 1192.5,944.6 1199.3,938.7"/>
<polyline stroke="#b3c6f3" points="1003.4,1064.1 1064.2,1064.1 1070.9,1045.5 1077.7,998.7 1084.4,998.2 1091.2,987.6 1097.9,985.5 1104.7,990.8 1111.5,1008.8 1118.2,1018.4 1125,1055.1 1131.7,1028.5 1138.5,1064.1 1152,1064.1 1158.7,1038.6 1165.5,1064.1 1199.3,1064.1"/>
<polyline stroke="#b6e4b6" points="1003.4,1064.1 1077.7,1064.1 1084.4,1023.2 1091.2,1015.2 1097.9,1030.1 1104.7,1020.5 1111.5,1011.5 1118.2,1006.7 1125,1003.5 1131.7,985.5 1138.5,978.6 1145.2,1007.3 1152,1026.9 1158.7,1000.3 1165.5,1025.8 1172.2,1016.3 1179,1064.1 1192.5,1064.1 1199.3,1043.9"/>
<polyline stroke="#b6e4b6" points="1003.4,1064.1 1131.7,1064.1 1138.5,1049.2 1145.2,1064.1 1199.3,1064.1"/>
<polyline stroke="#0b47dd" stroke-width="2.5" points="1003.4,1064.1 1037.2,1064.1 1043.9,1062.5 1050.7,1059.3 1057.4,1048.2 1064.2,1031.2 1070.9,1008.3 1077.7,984.9 1084.4,983.3 1091.2,974.3 1097.9,977.5 1104.7,975.4 1111.5,991.8 1118.2,1003.5 1125,1012.6 1131.7,1007.3 1138.5,1018.9 1145.2,1019.5 1152,1015.8 1158.7,1009.9 1165.5,1012 1172.2,1009.4 1179,1001.4 1185.8,996.6 1192.5,994.5 1199.3,989.7"/>
<polyline stroke="#17ad1f" stroke-width="2.5" points="1003.4,1057.7 1010.2,1057.2 1016.9,1064.1 1050.7,1064.1 1057.4,1057.2 1064.2,1059.8 1070.9,1058.3 1077.7,1058.3 1084.4,1042.8 1091.2,1035.4 1097.9,1038.6 1104.7,1042.8 1111.5,1032.2 1118.2,1037 1125,1029.6 1131.7,1028.5 1138.5,1003.5 1145.2,1028.5 1152,1026.9 1158.7,1027.4 1165.5,1043.9 1172.2,1037 1179,1053.5 1185.8,1049.8 1192.5,1049.2 1199.3,1042.3"/>
</g></g>
<g clip-path="url(#cSE)"><g transform="translate(0,1064.1) scale(1,1.0083) translate(0,-1064.1)" fill="none" stroke-width="2.3" stroke-linejoin="round">
<polyline stroke="#b3c6f3" points="1285,1064.1 1312,1064.1 1318.8,1060.9 1325.5,984.9 1332.3,978.6 1339,955.2 1345.8,922.8 1352.5,933.4 1359.3,932.3 1366,930.2 1372.8,935.5 1379.6,946.2 1386.3,941.9 1393.1,963.2 1399.8,967.9 1406.6,981.2 1413.3,972.7 1420.1,981.2 1426.8,977 1433.6,973.2 1440.3,966.9 1447.1,964.2 1453.8,958.9 1460.6,957.8 1467.4,955.7 1474.1,955.7 1480.9,951.5"/>
<polyline stroke="#b3c6f3" points="1285,1064.1 1325.5,1064.1 1332.3,1008.8 1339,998.2 1345.8,969.5 1352.5,958.9 1359.3,956.2 1366,978.6 1372.8,982.8 1379.6,983.9 1386.3,998.2 1393.1,1025.8 1399.8,1006.2 1406.6,1018.9 1413.3,1015.2 1420.1,1022.1 1426.8,1014.2 1433.6,1009.9 1440.3,1006.2 1447.1,1014.2 1453.8,1064.1 1480.9,1064.1"/>
<polyline stroke="#b6e4b6" points="1285,1024.3 1291.8,983.9 1298.5,1063.6 1312,1064.1 1318.8,991.8 1325.5,1037.5 1332.3,1005.7 1339,980.2 1345.8,987.6 1352.5,974.9 1359.3,982.8 1366,989.2 1372.8,983.9 1379.6,990.3 1386.3,978.6 1393.1,972.2 1399.8,986.5 1406.6,991.8 1413.3,971.6 1420.1,978.6 1426.8,990.3 1433.6,1008.3 1440.3,997.2 1447.1,988.1 1453.8,1006.2 1460.6,1035.9 1467.4,1035.9 1474.1,1064.1 1480.9,1064.1"/>
<polyline stroke="#b6e4b6" points="1285,1064.1 1366,1064.1 1372.8,1052.9 1379.6,1064.1 1406.6,1064.1 1413.3,1049.8 1420.1,1064.1 1480.9,1064.1"/>
<polyline stroke="#0b47dd" stroke-width="2.5" points="1285,1064.1 1291.8,1062.5 1298.5,1063.6 1305.3,1063 1312,1058.3 1318.8,1042.8 1325.5,1024.3 1332.3,1008.8 1339,997.2 1345.8,948.3 1352.5,948.3 1359.3,944.6 1366,955.7 1372.8,957.8 1379.6,973.2 1386.3,977.5 1393.1,995 1399.8,991.8 1406.6,1001.4 1413.3,999.8 1420.1,1005.7 1426.8,998.2 1433.6,998.8 1440.3,995.6 1447.1,995.6 1453.8,997.7 1460.6,998.2 1467.4,995.6 1474.1,997.2 1480.9,997.2"/>
<polyline stroke="#17ad1f" stroke-width="2.5" points="1285,1043.9 1291.8,1034.9 1298.5,1045.5 1305.3,1049.2 1312,1050.3 1318.8,1038.6 1325.5,1045 1332.3,1035.9 1339,1018.9 1345.8,1022.1 1352.5,1021.6 1359.3,1029 1366,1026.4 1372.8,1007.3 1379.6,1025.8 1386.3,1024.3 1393.1,1019.5 1399.8,1029 1406.6,1023.2 1413.3,1009.9 1420.1,1015.2 1426.8,1020.5 1433.6,1026.9 1440.3,1027.4 1447.1,1021.1 1453.8,1029 1460.6,1048.2 1467.4,1045 1474.1,1048.2 1480.9,1064.1"/>
</g></g>

<g fill="none" stroke="#000" stroke-width="1.7">
<rect x="999" y="687.3" width="199.4" height="160.7"/>
<rect x="1281.1" y="687.3" width="199.9" height="160.7"/>
<rect x="999" y="903.4" width="199.4" height="160.7"/>
<rect x="1281.1" y="903.4" width="199.9" height="160.7"/>
</g>
<g font-size="10.4">
<text x="1002" y="700.5">NWQ</text><text x="1284" y="700.5">NEQ</text>
<text x="1002" y="916.8">SWQ</text><text x="1284" y="916.8">SEQ</text>
</g>
<g stroke="#000" stroke-width="1.4">
<path d="M990.8,848H999 M990.8,821.2H999 M990.8,794.4H999 M990.8,767.6H999 M990.8,740.9H999 M990.8,714.1H999 M990.8,687.3H999"/>
<path d="M1481,848h8.5 M1481,821.2h8.5 M1481,794.4h8.5 M1481,767.6h8.5 M1481,740.9h8.5 M1481,714.1h8.5 M1481,687.3h8.5"/>
<path d="M990.8,1064.1H999 M990.8,1037.3H999 M990.8,1010.5H999 M990.8,983.7H999 M990.8,957H999 M990.8,930.2H999 M990.8,903.4H999"/>
<path d="M1481,1064.1h8.5 M1481,1037.3h8.5 M1481,1010.5h8.5 M1481,983.7h8.5 M1481,957h8.5 M1481,930.2h8.5 M1481,903.4h8.5"/>
</g>
<g font-size="10.4" text-anchor="end">
<text x="982" y="851.7">0</text><text x="982" y="824.9">50</text><text x="982" y="798.1">100</text><text x="982" y="771.3">150</text><text x="982" y="744.6">200</text><text x="982" y="717.8">250</text><text x="982" y="691">300</text>
<text x="982" y="1067.8">0</text><text x="982" y="1041">50</text><text x="982" y="1014.2">100</text><text x="982" y="987.4">150</text><text x="982" y="960.7">200</text><text x="982" y="933.9">250</text><text x="982" y="907.1">300</text>
</g>
<g font-size="10.4">
<text x="1496" y="851.7">0</text><text x="1496" y="824.9">50</text><text x="1496" y="798.1">100</text><text x="1496" y="771.3">150</text><text x="1496" y="744.6">200</text><text x="1496" y="717.8">250</text><text x="1496" y="691">300</text>
<text x="1496" y="1067.8">0</text><text x="1496" y="1041">50</text><text x="1496" y="1014.2">100</text><text x="1496" y="987.4">150</text><text x="1496" y="960.7">200</text><text x="1496" y="933.9">250</text><text x="1496" y="907.1">300</text>
</g>
<g stroke="#000" stroke-width="1.4">
<path d="M1003.4,848v8 M1030.4,848v8 M1057.4,848v8 M1084.4,848v8 M1111.5,848v8 M1138.5,848v8 M1165.5,848v8 M1192.5,848v8"/>
<path d="M1285,848v8 M1312,848v8 M1339,848v8 M1366,848v8 M1393.1,848v8 M1420.1,848v8 M1447.1,848v8 M1474.1,848v8"/>
<path d="M1003.4,1064.1v8 M1030.4,1064.1v8 M1057.4,1064.1v8 M1084.4,1064.1v8 M1111.5,1064.1v8 M1138.5,1064.1v8 M1165.5,1064.1v8 M1192.5,1064.1v8"/>
<path d="M1285,1064.1v8 M1312,1064.1v8 M1339,1064.1v8 M1366,1064.1v8 M1393.1,1064.1v8 M1420.1,1064.1v8 M1447.1,1064.1v8 M1474.1,1064.1v8"/>
</g>
<g font-size="10.4" text-anchor="middle">
<text x="1003.4" y="872">0</text><text x="1030.4" y="872">24</text><text x="1057.4" y="872">48</text><text x="1084.4" y="872">72</text><text x="1111.5" y="872">96</text><text x="1138.5" y="872">120</text><text x="1165.5" y="872">144</text><text x="1192.5" y="872">168</text>
<text x="1285" y="872">0</text><text x="1312" y="872">24</text><text x="1339" y="872">48</text><text x="1366" y="872">72</text><text x="1393.1" y="872">96</text><text x="1420.1" y="872">120</text><text x="1447.1" y="872">144</text><text x="1474.1" y="872">168</text>
<text x="1003.4" y="1088.2">0</text><text x="1030.4" y="1088.2">24</text><text x="1057.4" y="1088.2">48</text><text x="1084.4" y="1088.2">72</text><text x="1111.5" y="1088.2">96</text><text x="1138.5" y="1088.2">120</text><text x="1165.5" y="1088.2">144</text><text x="1192.5" y="1088.2">168</text>
<text x="1285" y="1088.2">0</text><text x="1312" y="1088.2">24</text><text x="1339" y="1088.2">48</text><text x="1366" y="1088.2">72</text><text x="1393.1" y="1088.2">96</text><text x="1420.1" y="1088.2">120</text><text x="1447.1" y="1088.2">144</text><text x="1474.1" y="1088.2">168</text>
</g>
</svg>
</body></html>
